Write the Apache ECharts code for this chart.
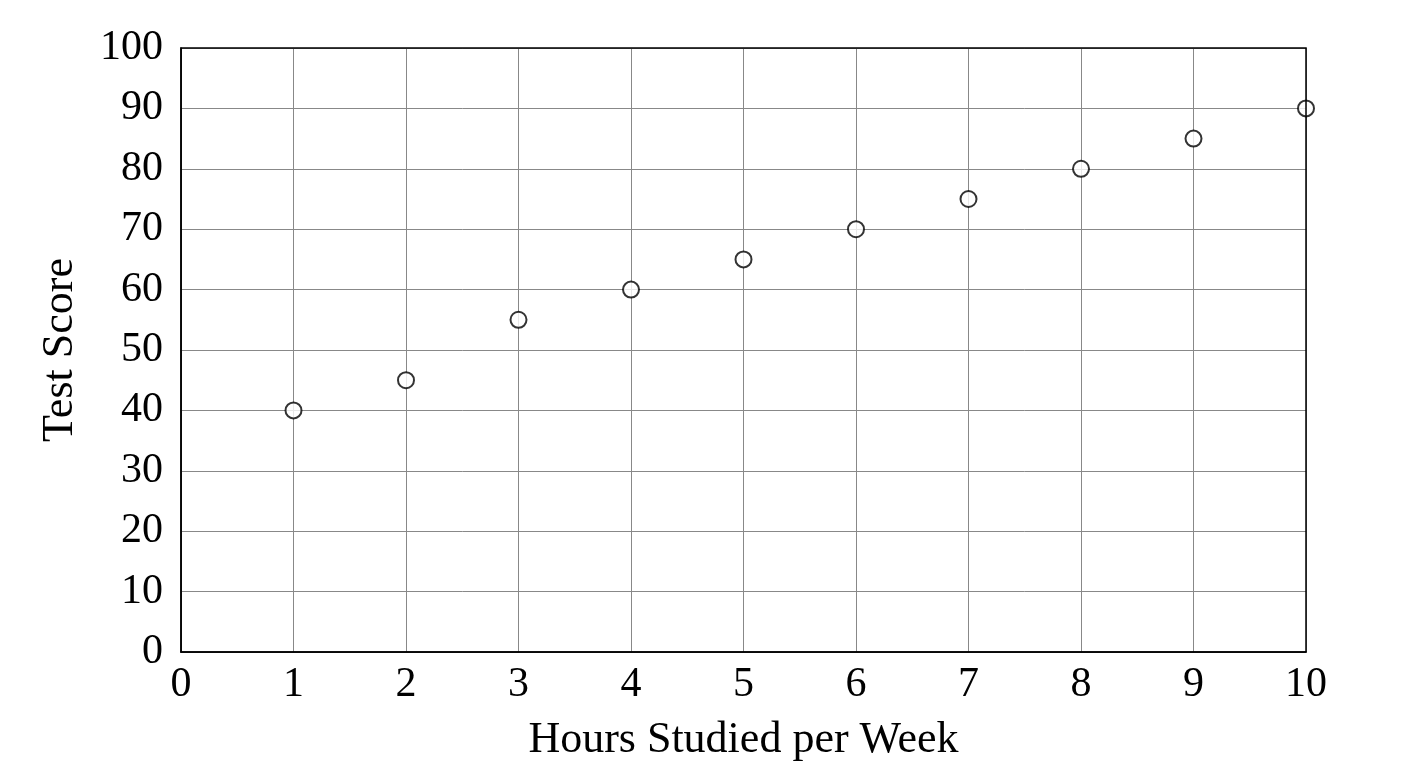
<!DOCTYPE html>
<html><head><meta charset="utf-8">
<script src="https://cdn.jsdelivr.net/npm/echarts@6/dist/echarts.min.js"></script>
<style>html,body{margin:0;padding:0;background:#fff}#c{width:1408px;height:768px}</style>
</head><body><div id="c"></div>
<script>
const hours = [1,2,3,4,5,6,7,8,9,10];
const scores = [40,45,55,60,65,70,75,80,85,90];
const xName = 'Hours Studied per Week';
const yName = 'Test Score';
const font = 'Liberation Serif';
const chart = echarts.init(document.getElementById('c'));
chart.setOption({
  animation:false,
  grid:{left:181,right:102,top:48,bottom:116},
  xAxis:{type:'value',min:0,max:10,interval:1,name:xName,nameLocation:'middle',nameGap:66,
    nameTextStyle:{fontFamily:font,fontSize:44,color:'#000'},
    axisLine:{show:true,lineStyle:{color:'#000',width:1.5}},axisTick:{show:false},
    axisLabel:{fontFamily:font,fontSize:42,color:'#000',margin:12},
    splitLine:{show:true,lineStyle:{color:'#888',width:1}}},
  yAxis:{type:'value',min:0,max:100,interval:10,name:yName,nameLocation:'middle',nameGap:99,
    nameTextStyle:{fontFamily:font,fontSize:44,color:'#000'},
    axisLine:{show:true,lineStyle:{color:'#000',width:1.5}},axisTick:{show:false},
    axisLabel:{fontFamily:font,fontSize:42,color:'#000',margin:18},
    splitLine:{show:true,lineStyle:{color:'#888',width:1}}},
  series:[{type:'scatter',data:hours.map((h,i)=>[h,scores[i]]),symbol:'circle',symbolSize:16,
    itemStyle:{color:'#fff',borderColor:'#000',borderWidth:2},z:5}],
  graphic:[{type:'rect',shape:{x:181,y:48,width:1125,height:604},style:{fill:'none',stroke:'#000',lineWidth:1.5},z:10}]
});
</script></body></html>
